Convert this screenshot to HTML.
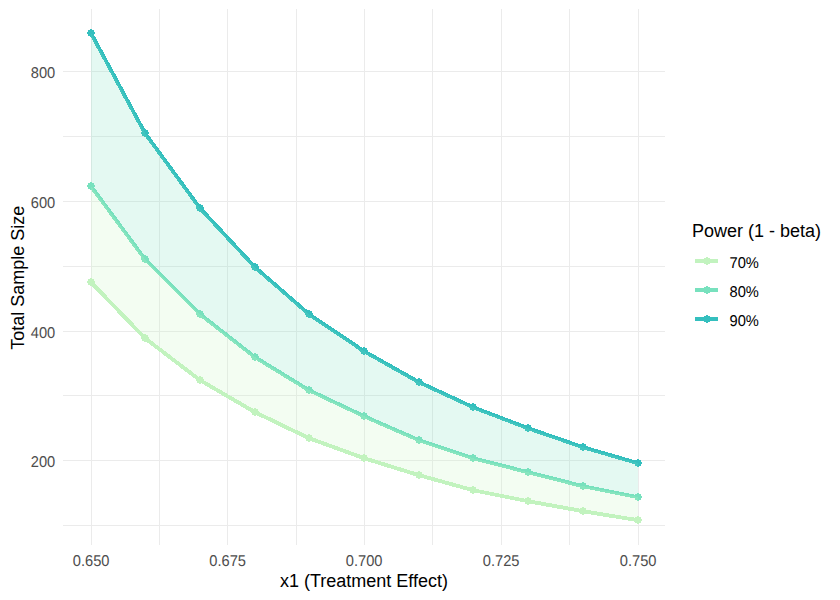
<!DOCTYPE html>
<html lang="en"><head><meta charset="utf-8"><title>Sample size vs treatment effect</title>
<style>html,body{margin:0;padding:0;background:#fff}body{width:840px;height:600px;overflow:hidden}svg{display:block}</style>
</head><body>
<svg width="840" height="600" viewBox="0 0 840 600">
<rect width="840" height="600" fill="#fff"/>
<g fill="#EBEBEB" shape-rendering="crispEdges">
<rect x="63" y="71" width="602" height="1"/>
<rect x="63" y="136" width="602" height="1"/>
<rect x="63" y="201" width="602" height="1"/>
<rect x="63" y="266" width="602" height="1"/>
<rect x="63" y="331" width="602" height="1"/>
<rect x="63" y="395" width="602" height="1"/>
<rect x="63" y="460" width="602" height="1"/>
<rect x="63" y="525" width="602" height="1"/>
<rect x="91" y="9" width="1" height="536"/>
<rect x="159" y="9" width="1" height="536"/>
<rect x="227" y="9" width="1" height="536"/>
<rect x="296" y="9" width="1" height="536"/>
<rect x="364" y="9" width="1" height="536"/>
<rect x="432" y="9" width="1" height="536"/>
<rect x="501" y="9" width="1" height="536"/>
<rect x="569" y="9" width="1" height="536"/>
<rect x="638" y="9" width="1" height="536"/>
</g>
<path d="M91.0,282.2 L145.0,338.2 L200.0,380.2 L255.0,412.2 L309.0,438.2 L364.0,458.2 L419.0,475.2 L473.0,490.2 L528.0,501.2 L583.0,511.2 L638.0,520.2" fill="none" stroke="#C2F3BF" stroke-width="3.9" stroke-linejoin="round" stroke-linecap="butt" shape-rendering="crispEdges"/>
<path d="M91.0,186.2 L145.0,259.2 L200.0,314.2 L255.0,357.2 L309.0,390.2 L364.0,416.2 L419.0,440.2 L473.0,458.2 L528.0,472.2 L583.0,486.2 L638.0,497.2" fill="none" stroke="#78E1BE" stroke-width="3.9" stroke-linejoin="round" stroke-linecap="butt" shape-rendering="crispEdges"/>
<path d="M91.0,33.2 L145.0,133.2 L200.0,208.2 L255.0,267.2 L309.0,314.2 L364.0,351.2 L419.0,382.2 L473.0,407.2 L528.0,428.2 L583.0,447.2 L638.0,463.2" fill="none" stroke="#34BFBE" stroke-width="3.9" stroke-linejoin="round" stroke-linecap="butt" shape-rendering="crispEdges"/>
<path fill="#C2F3BF" shape-rendering="crispEdges" d="M90,278h2v1h-2zM88,279h6v1h-6zM88,280h6v1h-6zM87,281h8v1h-8zM87,282h8v1h-8zM88,283h6v1h-6zM88,284h6v1h-6zM90,285h2v1h-2zM144,334h2v1h-2zM142,335h6v1h-6zM142,336h6v1h-6zM141,337h8v1h-8zM141,338h8v1h-8zM142,339h6v1h-6zM142,340h6v1h-6zM144,341h2v1h-2zM199,376h2v1h-2zM197,377h6v1h-6zM197,378h6v1h-6zM196,379h8v1h-8zM196,380h8v1h-8zM197,381h6v1h-6zM197,382h6v1h-6zM199,383h2v1h-2zM254,408h2v1h-2zM252,409h6v1h-6zM252,410h6v1h-6zM251,411h8v1h-8zM251,412h8v1h-8zM252,413h6v1h-6zM252,414h6v1h-6zM254,415h2v1h-2zM308,434h2v1h-2zM306,435h6v1h-6zM306,436h6v1h-6zM305,437h8v1h-8zM305,438h8v1h-8zM306,439h6v1h-6zM306,440h6v1h-6zM308,441h2v1h-2zM363,454h2v1h-2zM361,455h6v1h-6zM361,456h6v1h-6zM360,457h8v1h-8zM360,458h8v1h-8zM361,459h6v1h-6zM361,460h6v1h-6zM363,461h2v1h-2zM418,471h2v1h-2zM416,472h6v1h-6zM416,473h6v1h-6zM415,474h8v1h-8zM415,475h8v1h-8zM416,476h6v1h-6zM416,477h6v1h-6zM418,478h2v1h-2zM472,486h2v1h-2zM470,487h6v1h-6zM470,488h6v1h-6zM469,489h8v1h-8zM469,490h8v1h-8zM470,491h6v1h-6zM470,492h6v1h-6zM472,493h2v1h-2zM527,497h2v1h-2zM525,498h6v1h-6zM525,499h6v1h-6zM524,500h8v1h-8zM524,501h8v1h-8zM525,502h6v1h-6zM525,503h6v1h-6zM527,504h2v1h-2zM582,507h2v1h-2zM580,508h6v1h-6zM580,509h6v1h-6zM579,510h8v1h-8zM579,511h8v1h-8zM580,512h6v1h-6zM580,513h6v1h-6zM582,514h2v1h-2zM637,516h2v1h-2zM635,517h6v1h-6zM635,518h6v1h-6zM634,519h8v1h-8zM634,520h8v1h-8zM635,521h6v1h-6zM635,522h6v1h-6zM637,523h2v1h-2z"/>
<path fill="#78E1BE" shape-rendering="crispEdges" d="M90,182h2v1h-2zM88,183h6v1h-6zM88,184h6v1h-6zM87,185h8v1h-8zM87,186h8v1h-8zM88,187h6v1h-6zM88,188h6v1h-6zM90,189h2v1h-2zM144,255h2v1h-2zM142,256h6v1h-6zM142,257h6v1h-6zM141,258h8v1h-8zM141,259h8v1h-8zM142,260h6v1h-6zM142,261h6v1h-6zM144,262h2v1h-2zM199,310h2v1h-2zM197,311h6v1h-6zM197,312h6v1h-6zM196,313h8v1h-8zM196,314h8v1h-8zM197,315h6v1h-6zM197,316h6v1h-6zM199,317h2v1h-2zM254,353h2v1h-2zM252,354h6v1h-6zM252,355h6v1h-6zM251,356h8v1h-8zM251,357h8v1h-8zM252,358h6v1h-6zM252,359h6v1h-6zM254,360h2v1h-2zM308,386h2v1h-2zM306,387h6v1h-6zM306,388h6v1h-6zM305,389h8v1h-8zM305,390h8v1h-8zM306,391h6v1h-6zM306,392h6v1h-6zM308,393h2v1h-2zM363,412h2v1h-2zM361,413h6v1h-6zM361,414h6v1h-6zM360,415h8v1h-8zM360,416h8v1h-8zM361,417h6v1h-6zM361,418h6v1h-6zM363,419h2v1h-2zM418,436h2v1h-2zM416,437h6v1h-6zM416,438h6v1h-6zM415,439h8v1h-8zM415,440h8v1h-8zM416,441h6v1h-6zM416,442h6v1h-6zM418,443h2v1h-2zM472,454h2v1h-2zM470,455h6v1h-6zM470,456h6v1h-6zM469,457h8v1h-8zM469,458h8v1h-8zM470,459h6v1h-6zM470,460h6v1h-6zM472,461h2v1h-2zM527,468h2v1h-2zM525,469h6v1h-6zM525,470h6v1h-6zM524,471h8v1h-8zM524,472h8v1h-8zM525,473h6v1h-6zM525,474h6v1h-6zM527,475h2v1h-2zM582,482h2v1h-2zM580,483h6v1h-6zM580,484h6v1h-6zM579,485h8v1h-8zM579,486h8v1h-8zM580,487h6v1h-6zM580,488h6v1h-6zM582,489h2v1h-2zM637,493h2v1h-2zM635,494h6v1h-6zM635,495h6v1h-6zM634,496h8v1h-8zM634,497h8v1h-8zM635,498h6v1h-6zM635,499h6v1h-6zM637,500h2v1h-2z"/>
<path fill="#34BFBE" shape-rendering="crispEdges" d="M90,29h2v1h-2zM88,30h6v1h-6zM88,31h6v1h-6zM87,32h8v1h-8zM87,33h8v1h-8zM88,34h6v1h-6zM88,35h6v1h-6zM90,36h2v1h-2zM144,129h2v1h-2zM142,130h6v1h-6zM142,131h6v1h-6zM141,132h8v1h-8zM141,133h8v1h-8zM142,134h6v1h-6zM142,135h6v1h-6zM144,136h2v1h-2zM199,204h2v1h-2zM197,205h6v1h-6zM197,206h6v1h-6zM196,207h8v1h-8zM196,208h8v1h-8zM197,209h6v1h-6zM197,210h6v1h-6zM199,211h2v1h-2zM254,263h2v1h-2zM252,264h6v1h-6zM252,265h6v1h-6zM251,266h8v1h-8zM251,267h8v1h-8zM252,268h6v1h-6zM252,269h6v1h-6zM254,270h2v1h-2zM308,310h2v1h-2zM306,311h6v1h-6zM306,312h6v1h-6zM305,313h8v1h-8zM305,314h8v1h-8zM306,315h6v1h-6zM306,316h6v1h-6zM308,317h2v1h-2zM363,347h2v1h-2zM361,348h6v1h-6zM361,349h6v1h-6zM360,350h8v1h-8zM360,351h8v1h-8zM361,352h6v1h-6zM361,353h6v1h-6zM363,354h2v1h-2zM418,378h2v1h-2zM416,379h6v1h-6zM416,380h6v1h-6zM415,381h8v1h-8zM415,382h8v1h-8zM416,383h6v1h-6zM416,384h6v1h-6zM418,385h2v1h-2zM472,403h2v1h-2zM470,404h6v1h-6zM470,405h6v1h-6zM469,406h8v1h-8zM469,407h8v1h-8zM470,408h6v1h-6zM470,409h6v1h-6zM472,410h2v1h-2zM527,424h2v1h-2zM525,425h6v1h-6zM525,426h6v1h-6zM524,427h8v1h-8zM524,428h8v1h-8zM525,429h6v1h-6zM525,430h6v1h-6zM527,431h2v1h-2zM582,443h2v1h-2zM580,444h6v1h-6zM580,445h6v1h-6zM579,446h8v1h-8zM579,447h8v1h-8zM580,448h6v1h-6zM580,449h6v1h-6zM582,450h2v1h-2zM637,459h2v1h-2zM635,460h6v1h-6zM635,461h6v1h-6zM634,462h8v1h-8zM634,463h8v1h-8zM635,464h6v1h-6zM635,465h6v1h-6zM637,466h2v1h-2z"/>
<path d="M91.0,33.2 L145.0,133.2 L200.0,208.2 L255.0,267.2 L309.0,314.2 L364.0,351.2 L419.0,382.2 L473.0,407.2 L528.0,428.2 L583.0,447.2 L638.0,463.2 L638.0,497.2 L583.0,486.2 L528.0,472.2 L473.0,458.2 L419.0,440.2 L364.0,416.2 L309.0,390.2 L255.0,357.2 L200.0,314.2 L145.0,259.2 L91.0,186.2 Z" fill="#78E1BE" fill-opacity="0.2" shape-rendering="crispEdges"/>
<path d="M91.0,186.2 L145.0,259.2 L200.0,314.2 L255.0,357.2 L309.0,390.2 L364.0,416.2 L419.0,440.2 L473.0,458.2 L528.0,472.2 L583.0,486.2 L638.0,497.2 L638.0,520.2 L583.0,511.2 L528.0,501.2 L473.0,490.2 L419.0,475.2 L364.0,458.2 L309.0,438.2 L255.0,412.2 L200.0,380.2 L145.0,338.2 L91.0,282.2 Z" fill="#C2F3BF" fill-opacity="0.2" shape-rendering="crispEdges"/>
<g font-family="Liberation Sans, Arial, sans-serif" font-size="15.6" fill="#4D4D4D" text-rendering="geometricPrecision">
<text transform="translate(55.2,78.0) scale(0.9404,1)" text-anchor="end">800</text>
<text transform="translate(55.2,208.0) scale(0.9404,1)" text-anchor="end">600</text>
<text transform="translate(55.2,338.0) scale(0.9404,1)" text-anchor="end">400</text>
<text transform="translate(55.2,467.0) scale(0.9404,1)" text-anchor="end">200</text>
<text transform="translate(91.1,565.7) scale(0.9404,1)" text-anchor="middle">0.650</text>
<text transform="translate(227.6,565.7) scale(0.9404,1)" text-anchor="middle">0.675</text>
<text transform="translate(364.1,565.7) scale(0.9404,1)" text-anchor="middle">0.700</text>
<text transform="translate(501.1,565.7) scale(0.9404,1)" text-anchor="middle">0.725</text>
<text transform="translate(638.1,565.7) scale(0.9404,1)" text-anchor="middle">0.750</text>
</g>
<g font-family="Liberation Sans, Arial, sans-serif" font-size="18" fill="#000">
<text x="364" y="587" text-anchor="middle">x1 (Treatment Effect)</text>
<text transform="translate(23.9,277.7) rotate(-90)" text-anchor="middle">Total Sample Size</text>
<text x="692" y="236.8">Power (1 - beta)</text>
</g>
<g font-family="Liberation Sans, Arial, sans-serif" font-size="15.6" fill="#000" text-rendering="geometricPrecision">
<rect x="695" y="259" width="23" height="4" fill="#C2F3BF" shape-rendering="crispEdges"/>
<path d="M706,257h2v1h-2zM704,258h6v1h-6zM704,259h6v1h-6zM703,260h8v1h-8zM703,261h8v1h-8zM704,262h6v1h-6zM704,263h6v1h-6zM706,264h2v1h-2z" fill="#C2F3BF" shape-rendering="crispEdges"/>
<text transform="translate(729.5,267.8) scale(0.9404,1)">70%</text>
<rect x="695" y="288" width="23" height="4" fill="#78E1BE" shape-rendering="crispEdges"/>
<path d="M706,286h2v1h-2zM704,287h6v1h-6zM704,288h6v1h-6zM703,289h8v1h-8zM703,290h8v1h-8zM704,291h6v1h-6zM704,292h6v1h-6zM706,293h2v1h-2z" fill="#78E1BE" shape-rendering="crispEdges"/>
<text transform="translate(729.5,296.9) scale(0.9404,1)">80%</text>
<rect x="695" y="317" width="23" height="4" fill="#34BFBE" shape-rendering="crispEdges"/>
<path d="M706,315h2v1h-2zM704,316h6v1h-6zM704,317h6v1h-6zM703,318h8v1h-8zM703,319h8v1h-8zM704,320h6v1h-6zM704,321h6v1h-6zM706,322h2v1h-2z" fill="#34BFBE" shape-rendering="crispEdges"/>
<text transform="translate(729.5,325.9) scale(0.9404,1)">90%</text>
</g>
</svg>
</body></html>
